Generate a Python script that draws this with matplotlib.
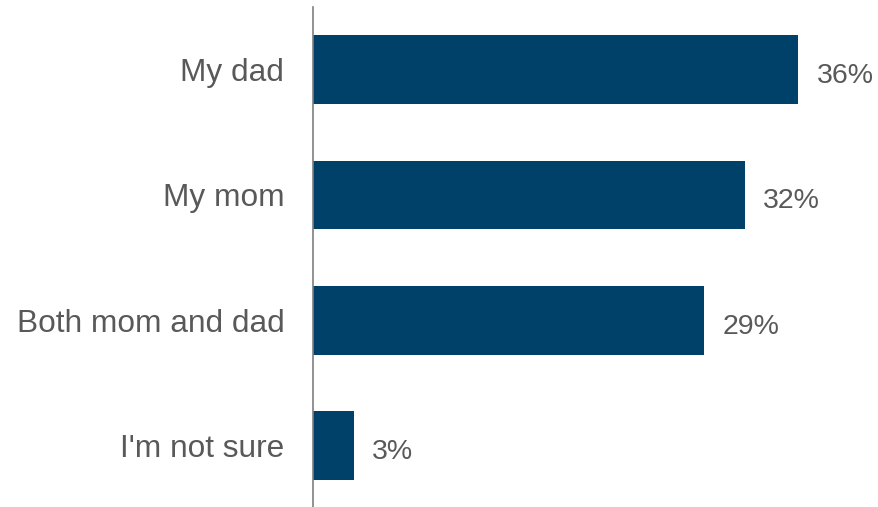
import matplotlib
matplotlib.use("Agg")
import matplotlib.pyplot as plt

categories = ["My dad", "My mom", "Both mom and dad", "I'm not sure"]
values = [36, 32, 29, 3]
value_labels = ["36%", "32%", "29%", "3%"]

plt.rcParams['font.family'] = ['Liberation Sans', 'DejaVu Sans']

W, H = 879, 507
fig = plt.figure(figsize=(W / 100, H / 100), dpi=100)
left, top, bottom = 313.5, 7, 507
ax = fig.add_axes([left / W, (H - bottom) / H, (W - left) / W, (bottom - top) / H])

y = list(range(len(categories)))
ax.barh(y, values, height=0.55, color="#00416A")
ax.set_ylim(3.49, -0.5)
ax.set_xlim(0, (W - left) / 13.47)

for yi, v, lab in zip(y, values, value_labels):
    ax.annotate(lab, (v, yi), xytext=(13, -9.7), textcoords="offset points",
                va="baseline", ha="left", fontsize=20.5, color="#595959")

ax.set_yticks(y)
ax.set_yticklabels(categories, fontsize=22.8, color="#595959")
ax.tick_params(axis="y", length=0, pad=21)
ax.set_xticks([])
for s in ["top", "right", "bottom"]:
    ax.spines[s].set_visible(False)
ax.spines["left"].set_color("#7f7f7f")
ax.spines["left"].set_linewidth(1.2)

fig.savefig("out.png", dpi=100)
